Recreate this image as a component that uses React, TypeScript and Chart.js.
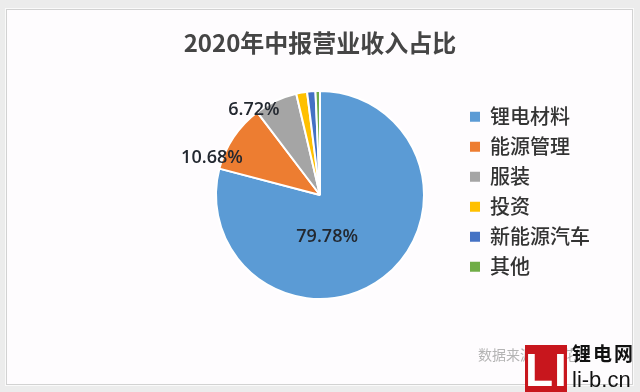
import React, { useEffect, useRef } from "react";
import { Chart, registerables } from "chart.js";

Chart.register(...registerables);

const TITLE = "2020年中报营业收入占比";
const CATEGORIES = ["锂电材料", "能源管理", "服装", "投资", "新能源汽车", "其他"];
const VALUES = [79.78, 10.68, 6.72, 1.7, 1.3, 0.7];
const COLORS = ["#5B9BD5", "#ED7D31", "#A5A5A5", "#FFC000", "#4472C4", "#70AD47"];
const SHOW_LABEL = [true, true, true, false, false, false];
// label placement style (radius factor, angular shift in degrees)
const LABEL_RADIUS = [0.41, 1.1, 1.04, 1, 1, 1];
const LABEL_SHIFT = [28, -14.6, -12.5, 0, 0, 0];
const SOURCE = "数据来源：同花顺";

const labelPlugin = {
  id: "sliceLabels",
  afterDatasetsDraw(chart: any) {
    const ctx = chart.ctx;
    const meta = chart.getDatasetMeta(0);
    ctx.save();
    ctx.font = "600 18px 'Open Sans', 'Noto Sans', sans-serif";
    ctx.fillStyle = "#232830";
    ctx.textAlign = "center";
    ctx.textBaseline = "middle";
    meta.data.forEach((arc: any, i: number) => {
      if (!SHOW_LABEL[i]) return;
      const p = arc.getProps(["x", "y", "startAngle", "endAngle", "outerRadius"], true);
      const mid = (p.startAngle + p.endAngle) / 2 + (LABEL_SHIFT[i] * Math.PI) / 180;
      const r = p.outerRadius * LABEL_RADIUS[i];
      const x = p.x + Math.cos(mid) * r;
      const y = p.y + Math.sin(mid) * r;
      ctx.fillText(VALUES[i].toFixed(2) + "%", x, y);
    });
    ctx.restore();
  },
};

export default function App() {
  const ref = useRef<HTMLCanvasElement | null>(null);

  useEffect(() => {
    if (!ref.current) return;
    const chart = new Chart(ref.current, {
      type: "pie",
      data: {
        labels: CATEGORIES,
        datasets: [
          {
            data: VALUES,
            backgroundColor: COLORS,
            borderColor: "#ffffff",
            borderWidth: 2,
          },
        ],
      },
      options: {
        responsive: false,
        animation: false,
        radius: 104,
        layout: { padding: { left: 180, right: 40, top: 39.7, bottom: 48.3 } },
        plugins: {
          title: {
            display: true,
            text: TITLE,
            fullSize: false,
            color: "#454545",
            font: { family: "'Noto Sans CJK SC', sans-serif", size: 24, weight: "bold", lineHeight: 0.275 },
            padding: 0,
          },
          legend: {
            position: "right",
            labels: {
              boxWidth: 10,
              boxHeight: 10,
              padding: 10,
              color: "#333333",
              font: { family: "'Noto Sans CJK SC', sans-serif", size: 20, weight: "500" },
              generateLabels: (c: any) => {
                const base = Chart.overrides.pie.plugins.legend.labels.generateLabels(c);
                return base.map((l: any) => ({ ...l, lineWidth: 0, strokeStyle: "rgba(0,0,0,0)" }));
              },
            },
          },
          tooltip: { enabled: false },
        },
      },
      plugins: [labelPlugin],
    });
    return () => chart.destroy();
  }, []);

  return (
    <div
      style={{
        position: "fixed",
        left: 0,
        top: 0,
        width: 640,
        height: 392,
        background: "#ececec",
        overflow: "hidden",
      }}
    >
      <div
        style={{
          position: "absolute",
          left: 6,
          top: 9,
          width: 625,
          height: 374,
          background: "#fefcfe",
          border: "1px solid #d2d2d2",
          boxShadow: "0 0 0 1px #fafafa",
        }}
      />
      <canvas ref={ref} width={640} height={392} style={{ position: "absolute", left: 0, top: 0 }} />
      <div
        style={{
          position: "absolute",
          left: 478,
          top: 344,
          fontFamily: "'Noto Sans CJK SC', sans-serif",
          fontSize: 14,
          lineHeight: "20px",
          color: "#b4b4b4",
          whiteSpace: "nowrap",
        }}
      >
        {SOURCE}
      </div>
      <div
        style={{
          position: "absolute",
          left: 525,
          top: 345,
          width: 42,
          height: 47,
          background: "#c8161d",
          color: "#ffffff",
          fontFamily: "'Liberation Sans', sans-serif",
          fontWeight: "bold",
          fontSize: 46,
          lineHeight: "50px",
          textAlign: "center",
          letterSpacing: 1,
        }}
      >
        LI
      </div>
      <div
        style={{
          position: "absolute",
          left: 572,
          top: 341,
          fontFamily: "'Noto Sans CJK SC', sans-serif",
          fontWeight: "bold",
          fontSize: 19,
          lineHeight: "24px",
          letterSpacing: 2,
          color: "#111111",
          whiteSpace: "nowrap",
        }}
      >
        锂电网
      </div>
      <div
        style={{
          position: "absolute",
          left: 572,
          top: 367,
          fontFamily: "'Liberation Sans', sans-serif",
          fontSize: 22,
          lineHeight: "26px",
          color: "#111111",
          whiteSpace: "nowrap",
        }}
      >
        li-b.cn
      </div>
    </div>
  );
}
